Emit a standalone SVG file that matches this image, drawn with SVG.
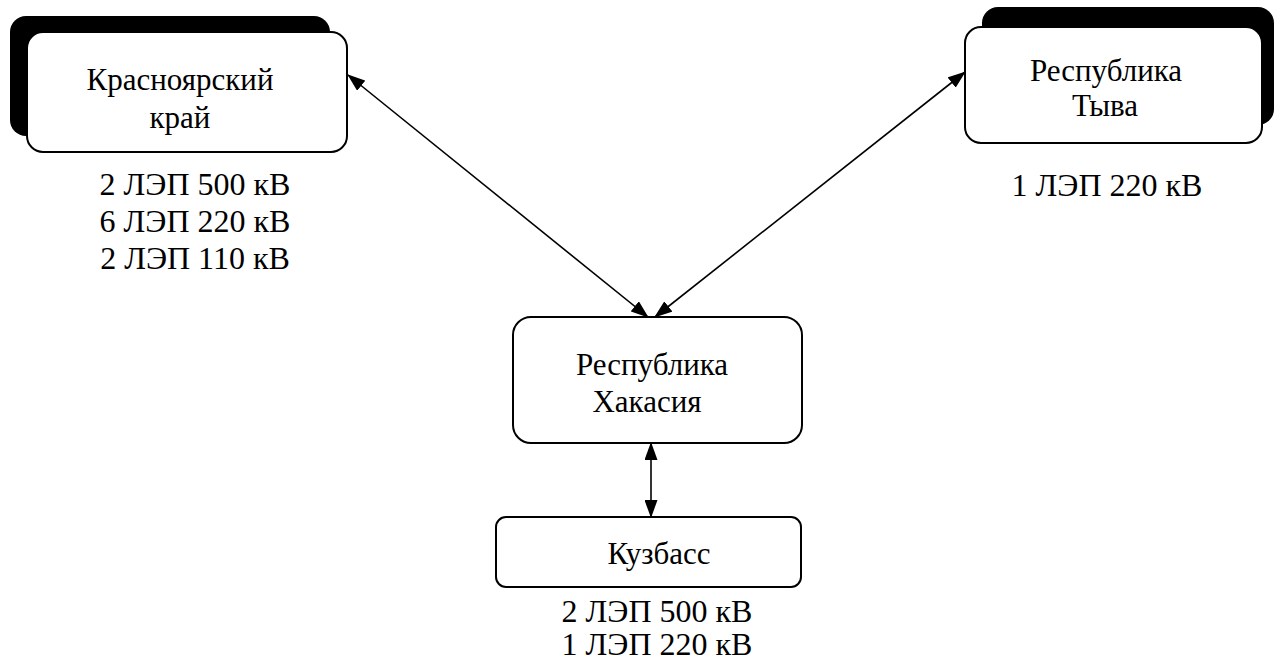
<svg xmlns="http://www.w3.org/2000/svg" width="1282" height="662" viewBox="0 0 1282 662">
  <style>
    .box { fill: #ffffff; stroke: #000000; stroke-width: 2; }
    .shadow { fill: #000000; stroke: none; }
    .t { font-family: 'Liberation Serif', 'DejaVu Serif', serif; font-size: 31px; fill: #000000; text-anchor: middle; }
    .lbl { font-family: 'Liberation Serif', 'DejaVu Serif', serif; font-size: 32px; fill: #000000; text-anchor: middle; }
    .link { stroke: #000000; stroke-width: 1.6; fill: none; marker-start: url(#arrow); marker-end: url(#arrow); }
  </style>
  <defs>
    <marker id="arrow" viewBox="0 0 18 13" refX="17" refY="6.5" markerWidth="18" markerHeight="13" markerUnits="userSpaceOnUse" orient="auto-start-reverse">
      <path d="M0,0 L18,6.5 L0,13 Z" fill="#000000"/>
    </marker>
  </defs>
  <rect width="1282" height="662" fill="#ffffff"/>

  <!-- connectors -->
  <g id="connectors">
    <line class="link" x1="348" y1="75" x2="648" y2="317"/>
    <line class="link" x1="965" y1="72" x2="655" y2="317"/>
    <line class="link" x1="651" y1="443" x2="651" y2="517"/>
  </g>

  <!-- Красноярский край -->
  <g id="node-krasnoyarsk">
    <rect class="shadow" x="10" y="16" width="320" height="120" rx="16"/>
    <rect class="box" x="27" y="32" width="320" height="120" rx="16"/>
    <text class="t" x="180" y="90">Красноярский</text>
    <text class="t" x="180" y="128">край</text>
    <text class="lbl" x="195" y="195">2 ЛЭП 500 кВ</text>
    <text class="lbl" x="195" y="232">6 ЛЭП 220 кВ</text>
    <text class="lbl" x="195" y="269">2 ЛЭП 110 кВ</text>
  </g>

  <!-- Республика Тыва -->
  <g id="node-tyva">
    <rect class="shadow" x="982" y="7" width="292" height="118" rx="16"/>
    <rect class="box" x="965" y="27" width="297" height="116" rx="16"/>
    <text class="t" x="1106" y="81">Республика</text>
    <text class="t" x="1105" y="116">Тыва</text>
    <text class="lbl" x="1107" y="196">1 ЛЭП 220 кВ</text>
  </g>

  <!-- Республика Хакасия -->
  <g id="node-khakasia">
    <rect class="box" x="513" y="317" width="289" height="126" rx="18"/>
    <text class="t" x="652" y="375">Республика</text>
    <text class="t" x="647" y="412">Хакасия</text>
  </g>

  <!-- Кузбасс -->
  <g id="node-kuzbass">
    <rect class="box" x="496" y="517" width="305" height="70" rx="10"/>
    <text class="t" x="659" y="564">Кузбасс</text>
    <text class="lbl" x="657" y="622">2 ЛЭП 500 кВ</text>
    <text class="lbl" x="657" y="655">1 ЛЭП 220 кВ</text>
  </g>
</svg>
